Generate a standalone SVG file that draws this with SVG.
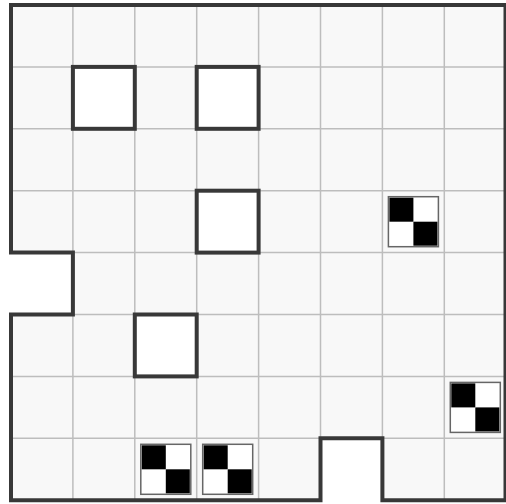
<svg xmlns="http://www.w3.org/2000/svg" width="506" height="504" viewBox="0 0 506 504">
<style>
.grid{stroke:#bdbdbd;stroke-width:1.5;fill:none}
.wall{stroke:#383838;stroke-width:4;fill:none;stroke-linejoin:miter}
.hole{fill:#ffffff;stroke:#383838;stroke-width:4}
</style>
<defs>
<g id="chk">
<rect x="0" y="0" width="50" height="50" fill="#fff" stroke="#666" stroke-width="1.5"/>
<rect x="1" y="1" width="24" height="24" fill="#000"/>
<rect x="25" y="25" width="24" height="24" fill="#000"/>
</g>
</defs>
<rect x="0" y="0" width="506" height="504" fill="#fff"/>
<g id="floor">
<path d="M11,5 H506 V500.2 H382.4 V438.3 H320.5 V500.2 H11 V314.5 H72.9 V252.6 H11 Z" fill="#f8f8f8"/>
</g>
<g id="gridlines" class="grid">
<path d="M72.9,5 V500 M134.8,5 V500 M196.7,5 V500 M258.6,5 V500 M320.5,5 V500 M382.4,5 V500 M444.3,5 V500"/>
<path d="M11,66.9 H506 M11,128.8 H506 M11,190.7 H506 M11,252.6 H506 M11,314.5 H506 M11,376.4 H506 M11,438.3 H506"/>
</g>
<g id="holes">
<rect id="hole1" class="hole" x="72.9" y="66.9" width="61.9" height="61.9"/>
<rect id="hole2" class="hole" x="196.7" y="66.9" width="61.9" height="61.9"/>
<rect id="hole3" class="hole" x="196.7" y="190.7" width="61.9" height="61.9"/>
<rect id="hole4" class="hole" x="134.8" y="314.5" width="61.9" height="61.9"/>
</g>
<g id="tiles">
<use id="tile1" href="#chk" x="388.4" y="196.7"/>
<use id="tile2" href="#chk" x="450.3" y="382.4"/>
<use id="tile3" href="#chk" x="140.8" y="444.3"/>
<use id="tile4" href="#chk" x="202.7" y="444.3"/>
</g>
<g id="outline">
<path class="wall" d="M11,5 H505.5 V500.2 H382.4 V438.3 H320.5 V500.2 H11 V314.5 H72.9 V252.6 H11 Z"/>
</g>
</svg>
